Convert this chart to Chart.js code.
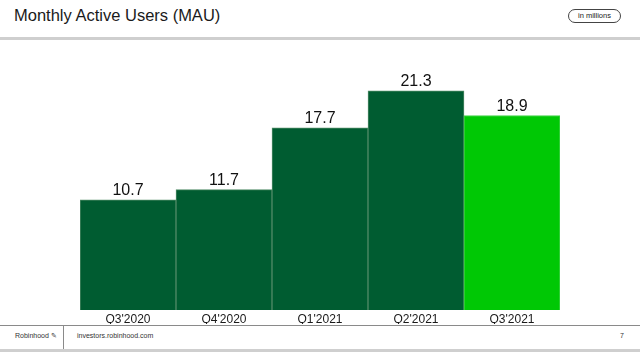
<!DOCTYPE html>
<html>
<head>
<meta charset="utf-8">
<script src="https://cdn.jsdelivr.net/npm/chart.js@4"></script>
<style>
  html, body { margin: 0; padding: 0; background: #fff; }
  body { width: 640px; height: 358px; position: relative; overflow: hidden; font-family: "Liberation Sans", Arial, sans-serif; color: #111; }
  #title { position: absolute; left: 14px; top: 6px; font-size: 16.5px; color: #1a1a1a; }
  #unit { position: absolute; left: 568px; top: 9px; width: 51px; height: 12px; border: 1px solid #444; border-radius: 7px; font-size: 7.5px; line-height: 12px; text-align: center; color: #222; }
  #topline { position: absolute; left: 0; top: 37px; width: 640px; height: 3px; background: #cfcfcf; }
  #chartBox { position: absolute; left: 0; top: 40px; }
  #footTop { position: absolute; left: 0; top: 325px; width: 640px; height: 1px; background: #8a8a8a; }
  #footBottom { position: absolute; left: 0; top: 349px; width: 640px; height: 3px; background: #cfcfcf; }
  #footDiv { position: absolute; left: 63px; top: 325px; width: 1px; height: 25px; background: #8a8a8a; }
  .foot { position: absolute; top: 332px; font-size: 7px; color: #333; }
</style>
</head>
<body>
<div id="title">Monthly Active Users (MAU)</div>
<div id="unit">in millions</div>
<div id="topline"></div>
<div id="chartBox"><canvas id="myChart" width="640" height="284"></canvas></div>
<div id="footTop"></div>
<div id="footDiv"></div>
<div id="footBottom"></div>
<div class="foot" style="left:15px;">Robinhood &#x270E;</div>
<div class="foot" style="left:77px;">investors.robinhood.com</div>
<div class="foot" style="left:620px;">7</div>
<script>
// Données MAU
const quarters = ["Q3'2020", "Q4'2020", "Q1'2021", "Q2'2021", "Q3'2021"];
const mau = [10.7, 11.7, 17.7, 21.3, 18.9];
const barColors = ['#005c31', '#005c31', '#005c31', '#005c31', '#00c805'];
const edgeColors = ['#4f8a66', '#4f8a66', '#4f8a66', '#4f8a66', '#45d34c'];

// valeur au-dessus de chaque barre
const valueLabels = {
    id: 'valueLabels',
    afterDatasetsDraw(chart) {
        const ctx = chart.ctx;
        const meta = chart.getDatasetMeta(0);
        ctx.save();
        ctx.font = '16px "Liberation Sans", Arial, sans-serif';
        ctx.fillStyle = '#111';
        ctx.textAlign = 'center';
        ctx.textBaseline = 'bottom';
        meta.data.forEach((bar, i) => {
            ctx.fillText(mau[i].toFixed(1), bar.x, bar.y - 1);
        });
        ctx.restore();
    }
};

const ctx = document.getElementById('myChart').getContext('2d');
const myChart = new Chart(ctx, {
    type: 'bar',
    data: {
        labels: quarters,
        datasets: [{
            label: 'MAU',
            data: mau,
            backgroundColor: barColors,
            borderColor: edgeColors,
            borderWidth: 1,
            barPercentage: 1,
            categoryPercentage: 1
        }]
    },
    options: {
        responsive: false,
        devicePixelRatio: 1,
        animation: false,
        layout: {
            padding: { left: 80, right: 80, top: 23, bottom: 0 }
        },
        scales: {
            x: {
                grid: { display: false, drawTicks: false },
                border: { display: false },
                ticks: {
                    padding: 2,
                    color: '#1a1a1a',
                    font: { family: '"Liberation Sans", Arial, sans-serif', size: 12 }
                },
                afterFit: (scale) => { scale.height = 14; }
            },
            y: {
                display: false,
                min: 0,
                max: 24
            }
        },
        plugins: {
            legend: { display: false },
            tooltip: { enabled: false }
        }
    },
    plugins: [valueLabels]
});
</script>
</body>
</html>
